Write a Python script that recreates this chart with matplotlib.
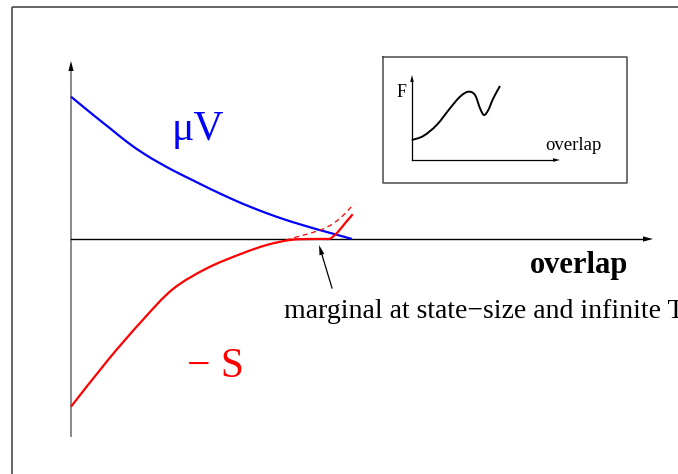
import numpy as np
import matplotlib
matplotlib.use("Agg")
import matplotlib.pyplot as plt
from matplotlib.path import Path
from matplotlib.patches import PathPatch

# ---- data (picture units: x = overlap, y = free-energy contribution) ----
mu_v_x = [0, 22.3, 39, 55.7, 72.3, 89, 105.7, 122.3, 139, 162, 179, 196, 213, 229, 246, 262, 281]
mu_v_y = [142.3, 124, 110.7, 97.3, 85.7, 75.7, 66.7, 58.5, 50.2, 39.5, 32.3, 25.7, 19.7, 14.7, 9.7, 5.3, 0]

# -S: smooth branch up to the kink, then the rising branch
minus_s_x = [0, 37, 71.7, 102, 136.5, 171, 195.7, 219, 239, 259]
minus_s_y = [-167.7, -121, -81, -50, -29, -14.5, -6, -1, 0, 0]
rise_x = [259, 265.7, 274, 281.7]
rise_y = [0, 5.7, 15.7, 24.7]

dashed_x = [215, 220.7, 239, 255.7, 269, 283]
dashed_y = [-1.5, 0.7, 5.7, 11.7, 20.7, 35]

inset_x = [340.7, 352.3, 365.7, 379, 389, 397.3, 404, 409, 413, 417.3, 422.3, 429]
inset_y = [99, 103, 114, 130.7, 142.3, 147.3, 144, 130.7, 124, 129, 140.7, 153]

label_main_x = "overlap"
label_annot = "marginal at state\u2212size and infinite T"
label_muv = "\u03bcV"
label_s = "\u2212 S"

# ---- figure ----
fig = plt.figure(figsize=(6.78, 4.74), dpi=100)
ax = fig.add_axes([0, 0, 1, 1])
ax.set_xlim(-71, 607)
ax.set_ylim(-235, 239)
ax.axis("off")

serif = ["Liberation Serif", "DejaVu Serif"]


def smooth_path(xs, ys):
    """Bezier path through the given points (Catmull-Rom tangents)."""
    p = np.column_stack([xs, ys]).astype(float)
    n = len(p)
    verts = [p[0]]
    codes = [Path.MOVETO]
    for i in range(n - 1):
        p0 = p[i - 1] if i > 0 else p[i]
        p1 = p[i]
        p2 = p[i + 1]
        p3 = p[i + 2] if i + 2 < n else p[i + 1]
        c1 = p1 + (p2 - p0) / 6.0
        c2 = p2 - (p3 - p1) / 6.0
        verts += [c1, c2, p2]
        codes += [Path.CURVE4] * 3
    return Path(verts, codes)


def draw_smooth(xs, ys, **kw):
    patch = PathPatch(smooth_path(xs, ys), facecolor="none", **kw)
    ax.add_patch(patch)


def head(tip, direction, length, half_w, color="black"):
    d = np.array(direction, float)
    d /= np.linalg.norm(d)
    n = np.array([-d[1], d[0]])
    t = np.array(tip, float)
    b = t - d * length
    pts = np.array([t, b + n * half_w, b - n * half_w])
    ax.fill(pts[:, 0], pts[:, 1], color=color, lw=0, zorder=5)


# outer frame (left and top edges visible)
ax.plot([-59.3, -59.3], [232.3, -240], color="#4a4a4a", lw=1.2, solid_capstyle="butt")
ax.plot([-59.3, 610], [232.3, 232.3], color="#4a4a4a", lw=1.2, solid_capstyle="butt")

# main axes
ax.plot([0, 0], [-198, 170], color="#808080", lw=1.3, solid_capstyle="butt")
head((0, 178), (0, 1), 10, 2.6)
ax.plot([0, 574], [0, 0], color="black", lw=1.0)
head((582, 0), (1, 0), 10, 2.6)

# curves
draw_smooth(mu_v_x, mu_v_y, edgecolor="#0000ff", lw=1.6, zorder=3)
draw_smooth(minus_s_x, minus_s_y, edgecolor="#ff0000", lw=1.6, zorder=3)
draw_smooth(rise_x, rise_y, edgecolor="#ff0000", lw=1.6, zorder=3)
patch = PathPatch(smooth_path(dashed_x, dashed_y), facecolor="none", edgecolor="#ff0000",
                  lw=0.9, linestyle=(0, (4, 3)), zorder=3)
ax.add_patch(patch)

# labels
ax.text(101, 99, label_muv, color="#0000ff", fontsize=30, family=serif, va="baseline", ha="left")
ax.text(116, -138, label_s, color="#ff0000", fontsize=30, family=serif, va="baseline", ha="left")
ax.text(459, -34, label_main_x, color="black", fontsize=22, family=serif,
        fontweight="bold", va="baseline", ha="left")
ax.text(213, -79, label_annot, color="black", fontsize=20, family=serif, va="baseline", ha="left")

# annotation arrow
tail = (261, -49)
tip = (248, -6)
d = np.array(tip) - np.array(tail)
dn = d / np.linalg.norm(d)
ax.plot([tail[0], tip[0] - dn[0] * 8], [tail[1], tip[1] - dn[1] * 8], color="black", lw=0.9)
head(tip, d, 10, 2.5)

# inset
ax.plot([312, 556, 556, 312, 312], [182, 182, 56, 56, 182], color="#4a4a4a", lw=1.1)
ax.plot([341, 341], [79, 158], color="black", lw=0.9)
head((341, 164), (0, 1), 7, 1.8)
ax.plot([341, 483], [79, 79], color="black", lw=0.9)
head((489, 79), (1, 0), 7, 1.8)
draw_smooth(inset_x, inset_y, edgecolor="black", lw=1.4)
ax.text(326, 142, "F", color="black", fontsize=13, family=serif, va="baseline", ha="left")
ax.text(474, 89, "overlap", color="black", fontsize=13.5, family=serif, va="baseline", ha="left")

fig.savefig("out.png", dpi=100)
